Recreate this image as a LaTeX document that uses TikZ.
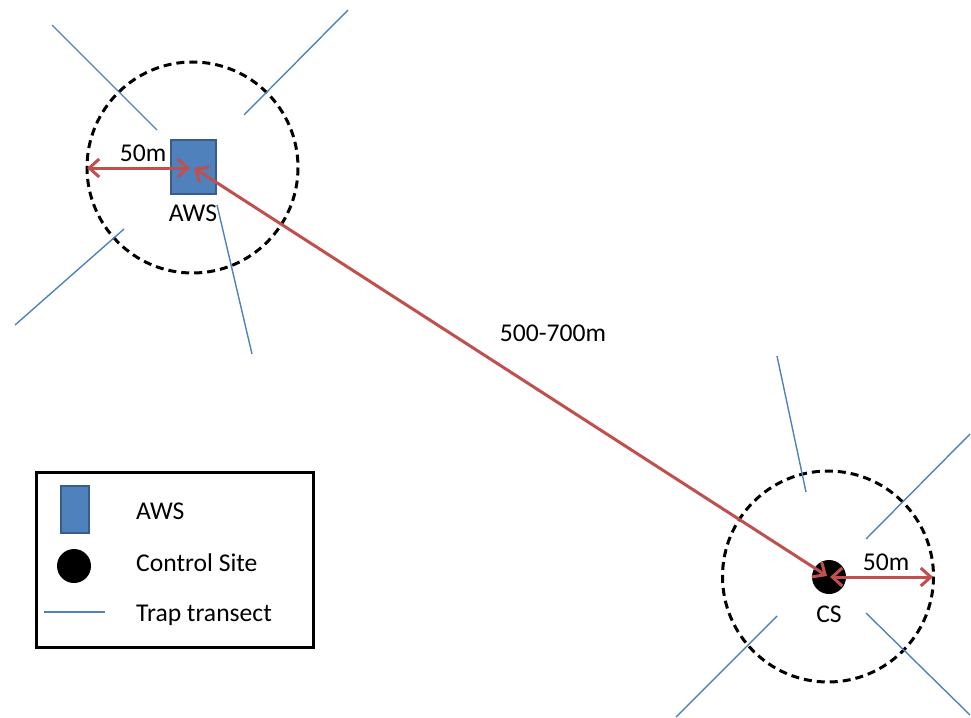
\documentclass[tikz,border=0pt]{standalone}
\usepackage{fontspec}
\setmainfont{Carlito}
\usetikzlibrary{arrows.meta}
\definecolor{accred}{HTML}{C0504D}
\definecolor{accblue}{HTML}{4F81BD}
\definecolor{accblueD}{HTML}{385D8A}
\tikzset{
  txt/.style={font=\fontsize{25.6}{30}\selectfont, inner sep=0pt},
  transect/.style={draw=accblue, line width=1.4},
  zone/.style={draw=black, line width=3, dash pattern=on 8 off 5},
  dist/.style={draw=accred, line width=3, {Straight Barb[length=10,width=18,line width=3]}-{Straight Barb[length=10,width=18,line width=3]}},
  awsbox/.style={draw=accblueD, fill=accblue, line width=2, minimum width=45, minimum height=54, inner sep=0pt},
  csdot/.style={circle, fill=black, minimum size=34, inner sep=0pt},
}
\begin{document}
\begin{tikzpicture}[x=1pt, y=-1pt]
\useasboundingbox (0,0) rectangle (971,717);
% AWS site
\draw[zone] (192.5,167.5) circle (105.5);
\draw[transect] (52,25) -- (157,130);
\draw[transect] (348,10) -- (244,115);
\draw[transect] (124,229) -- (15,325);
\draw[transect] (217,205) -- (252,354);
\node[awsbox] (aws) at (193.5,167) {};
\node[txt] (awsl) at (193,213) {AWS};
% CS site
\draw[zone] (828,576.5) circle (105.5);
\draw[transect] (777,356) -- (806,492);
\draw[transect] (970,434) -- (866,539);
\draw[transect] (777,616) -- (676,717);
\draw[transect] (866,613) -- (970,715);
\node[csdot] (cs) at (829,577) {};
\node[txt] (csl) at (829,614) {CS};
% arrows
\coordinate (awsL) at (87,168);
\coordinate (awsC) at (190,168);
\coordinate (awsM) at (194,168);
\coordinate (csM) at (827,576);
\coordinate (csC) at (830,577);
\coordinate (csR) at (933,577);
\draw[dist] (awsL) -- (awsC);
\draw[dist] (awsM) -- (csM);
\draw[dist] (csC) -- (csR);
\node[txt] (d1) at (143,153) {50m};
\node[txt] (d2) at (553,333) {500-700m};
\node[txt] (d3) at (886,562) {50m};
% legend
\node[draw=black, line width=3, minimum width=277, minimum height=175, inner sep=0pt] (leg) at (174.5,559.5) {};
\node[awsbox, minimum width=28, minimum height=47] (legaws) at (75,509.5) {};
\node[csdot] (legcs) at (74,566) {};
\coordinate (legtA) at (44,612);
\coordinate (legtB) at (105,612);
\draw[transect] (legtA) -- (legtB);
\node[txt, anchor=west] (t1) at (136,511) {AWS};
\node[txt, anchor=west] (t2) at (136,563) {Control Site};
\node[txt, anchor=west] (t3) at (136,615) {Trap transect};
\end{tikzpicture}
\end{document}
